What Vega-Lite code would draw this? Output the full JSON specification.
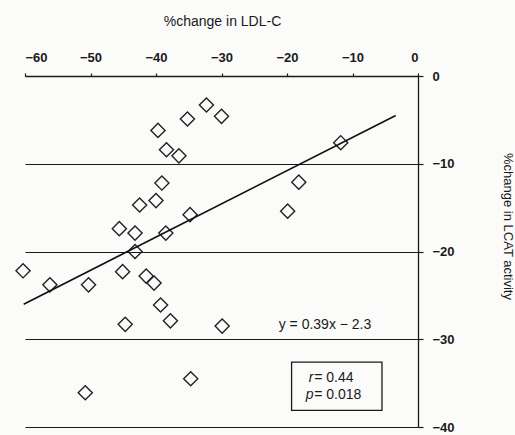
{
  "$schema": "https://vega.github.io/schema/vega-lite/v6.json",
  "autosize": "none",
  "width": 393,
  "height": 351,
  "padding": {"left": 25, "top": 76, "right": 97, "bottom": 8},
  "background": "#fbfbfa",
  "config": {
    "view": {"stroke": null},
    "font": "Liberation Sans",
    "axis": {"labelFont": "Liberation Sans", "titleFont": "Liberation Sans", "labelColor": "#1a1a1a", "titleColor": "#1a1a1a", "domainColor": "#1a1a1a", "tickColor": "#1a1a1a"}
  },
  "encoding": {
    "x": {
      "field": "x", "type": "quantitative",
      "scale": {"domain": [-60, 0], "nice": false, "zero": false},
      "axis": {
        "orient": "top", "values": [-60, -50, -40, -30, -20, -10, 0],
        "title": "%change in LDL-C", "grid": false,
        "tickSize": 3, "labelPadding": 9, "labelFontSize": 13, "labelFontWeight": "bold",
        "domainWidth": 1.3, "tickWidth": 1.2,
        "titleFontSize": 14, "titleFontWeight": "normal",
        "titleY": -55, "titleBaseline": "middle", "titleX": 197
      }
    },
    "y": {
      "field": "y", "type": "quantitative",
      "scale": {"domain": [-40, 0], "nice": false, "zero": false},
      "axis": {
        "orient": "right", "values": [0, -10, -20, -30, -40],
        "title": "%change in LCAT activity",
        "grid": true, "gridColor": "#1a1a1a", "gridOpacity": 1, "gridWidth": 1.2,
        "tickSize": 5, "labelPadding": 9, "labelFontSize": 13, "labelFontWeight": "bold",
        "domainWidth": 1.3, "tickWidth": 1.2,
        "titleFontSize": 13, "titleFontWeight": "normal",
        "titleAngle": 90, "titleX": 89, "titleY": 150, "titleAlign": "center", "titleBaseline": "middle"
      }
    }
  },
  "layer": [
    {
      "data": {"values": [
        {"x": -32.3, "y": -3.3}, {"x": -30.0, "y": -4.6}, {"x": -35.2, "y": -4.9},
        {"x": -39.7, "y": -6.2}, {"x": -38.4, "y": -8.4}, {"x": -36.5, "y": -9.1},
        {"x": -11.8, "y": -7.6}, {"x": -39.1, "y": -12.2}, {"x": -18.2, "y": -12.1},
        {"x": -40.0, "y": -14.2}, {"x": -42.5, "y": -14.7}, {"x": -34.8, "y": -15.8},
        {"x": -19.9, "y": -15.4}, {"x": -45.6, "y": -17.4}, {"x": -43.2, "y": -17.9},
        {"x": -38.5, "y": -17.9}, {"x": -43.2, "y": -20.0}, {"x": -60.3, "y": -22.2},
        {"x": -56.2, "y": -23.8}, {"x": -50.3, "y": -23.8}, {"x": -45.1, "y": -22.3},
        {"x": -41.5, "y": -22.8}, {"x": -40.3, "y": -23.6}, {"x": -39.3, "y": -26.1},
        {"x": -37.8, "y": -27.9}, {"x": -44.7, "y": -28.3}, {"x": -29.9, "y": -28.5},
        {"x": -34.7, "y": -34.5}, {"x": -50.8, "y": -36.1}
      ]},
      "mark": {"type": "point", "shape": "diamond", "filled": false, "size": 200, "stroke": "#222222", "strokeWidth": 1.4, "opacity": 1, "clip": false}
    },
    {
      "data": {"values": [{"x": -60.2, "y": -26.0}, {"x": -3.4, "y": -4.5}]},
      "mark": {"type": "line", "color": "#111111", "strokeWidth": 1.7, "clip": false}
    },
    {
      "data": {"values": [{"x": -19.3, "x2": -5.5, "y": -32.6, "y2": -38.1}]},
      "mark": {"type": "rect", "fill": "#fbfbfa", "stroke": "#1a1a1a", "strokeWidth": 1.3},
      "encoding": {"x2": {"field": "x2"}, "y2": {"field": "y2"}}
    },
    {
      "data": {"values": [{"x": -14.2, "y": -28.4, "label": "y = 0.39x − 2.3"}]},
      "mark": {"type": "text", "fontSize": 14, "color": "#1a1a1a", "align": "center", "baseline": "middle"},
      "encoding": {"text": {"field": "label"}}
    },
    {
      "data": {"values": [{"x": -15.95, "y": -34.4, "label": "r"}, {"x": -15.95, "y": -36.4, "label": "p"}]},
      "mark": {"type": "text", "fontSize": 14, "fontStyle": "italic", "color": "#1a1a1a", "align": "right", "baseline": "middle"},
      "encoding": {"text": {"field": "label"}}
    },
    {
      "data": {"values": [{"x": -15.85, "y": -34.4, "label": "= 0.44"}, {"x": -15.85, "y": -36.4, "label": "= 0.018"}]},
      "mark": {"type": "text", "fontSize": 14, "color": "#1a1a1a", "align": "left", "baseline": "middle"},
      "encoding": {"text": {"field": "label"}}
    }
  ]
}
